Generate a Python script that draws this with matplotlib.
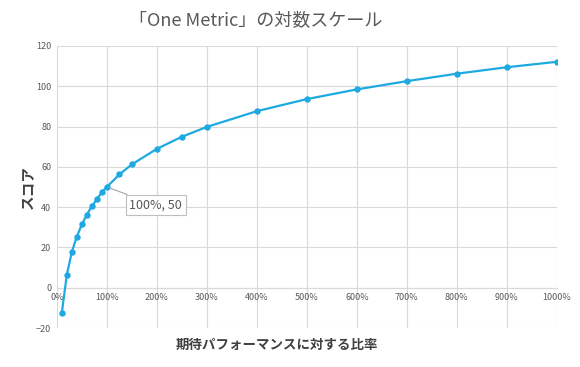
"""Logarithmic scoring curve for the 'One Metric' chart."""

import matplotlib
matplotlib.use('Agg')
import matplotlib.pyplot as plt
from matplotlib.ticker import FuncFormatter

plt.rcParams['font.family'] = ['Noto Sans CJK JP', 'DejaVu Sans']

# Ratio to expected performance (%) and resulting score
ratio_pct = [10, 20, 30, 40, 50, 60, 70, 80, 90, 100, 125, 150, 200, 250,
             300, 400, 500, 600, 700, 800, 900, 1000]
score = [-12.4, 6.5, 17.8, 25.4, 31.4, 36.3, 40.4, 44.0, 47.3, 50.0, 56.2,
         61.2, 68.9, 74.9, 79.8, 87.6, 93.6, 98.4, 102.5, 106.2, 109.4, 112.1]

title = '「One Metric」の対数スケール'
x_label = '期待パフォーマンスに対する比率'
y_label = 'スコア'
note_x, note_y = 100, 50

line_color = '#1fa9e1'
grid_color = '#d9d9d9'
tick_color = '#595959'

fig = plt.figure(figsize=(5.8, 3.67), dpi=100)
ax = fig.add_axes([0.098, 0.106, 0.862, 0.769])

ax.plot(ratio_pct, score, color=line_color, linewidth=1.6,
        marker='o', markersize=3.6, zorder=3)

ax.set_xlim(0, 1000)
ax.set_ylim(-20, 120)
ax.set_xticks(range(0, 1001, 100))
ax.set_yticks(range(-20, 121, 20))
ax.xaxis.set_major_formatter(FuncFormatter(lambda v, _: f'{int(v)}%'))

# Excel-style: light grid, no frame, category labels sit on the zero line
ax.grid(True, color=grid_color, linewidth=0.8)
ax.set_axisbelow(True)
for side in ['top', 'right', 'left']:
    ax.spines[side].set_visible(False)
ax.spines['bottom'].set_position(('data', 0))
ax.spines['bottom'].set_color(grid_color)
ax.tick_params(axis='both', length=0, labelsize=6.5, colors=tick_color, pad=4)

fig.text(0.441, 0.945, title, ha='center', va='center',
         fontsize=13, color=tick_color)
fig.text(0.478, 0.06, x_label, ha='center', va='center',
         fontsize=9.7, fontweight='bold', color='#404040')
fig.text(0.048, 0.49, y_label, ha='center', va='center', rotation=90,
         fontsize=10.5, fontweight='bold', color='#404040')

ax.annotate(f'{note_x}%, {note_y}', xy=(note_x, note_y), xytext=(145, 41),
            textcoords='data', fontsize=9, color=tick_color, va='center',
            bbox=dict(boxstyle='square,pad=0.3', fc='white', ec='#bfbfbf', lw=0.8),
            arrowprops=dict(arrowstyle='-', color='#a6a6a6', lw=0.8,
                            shrinkA=0, shrinkB=2))

fig.savefig('out.png', dpi=100)
